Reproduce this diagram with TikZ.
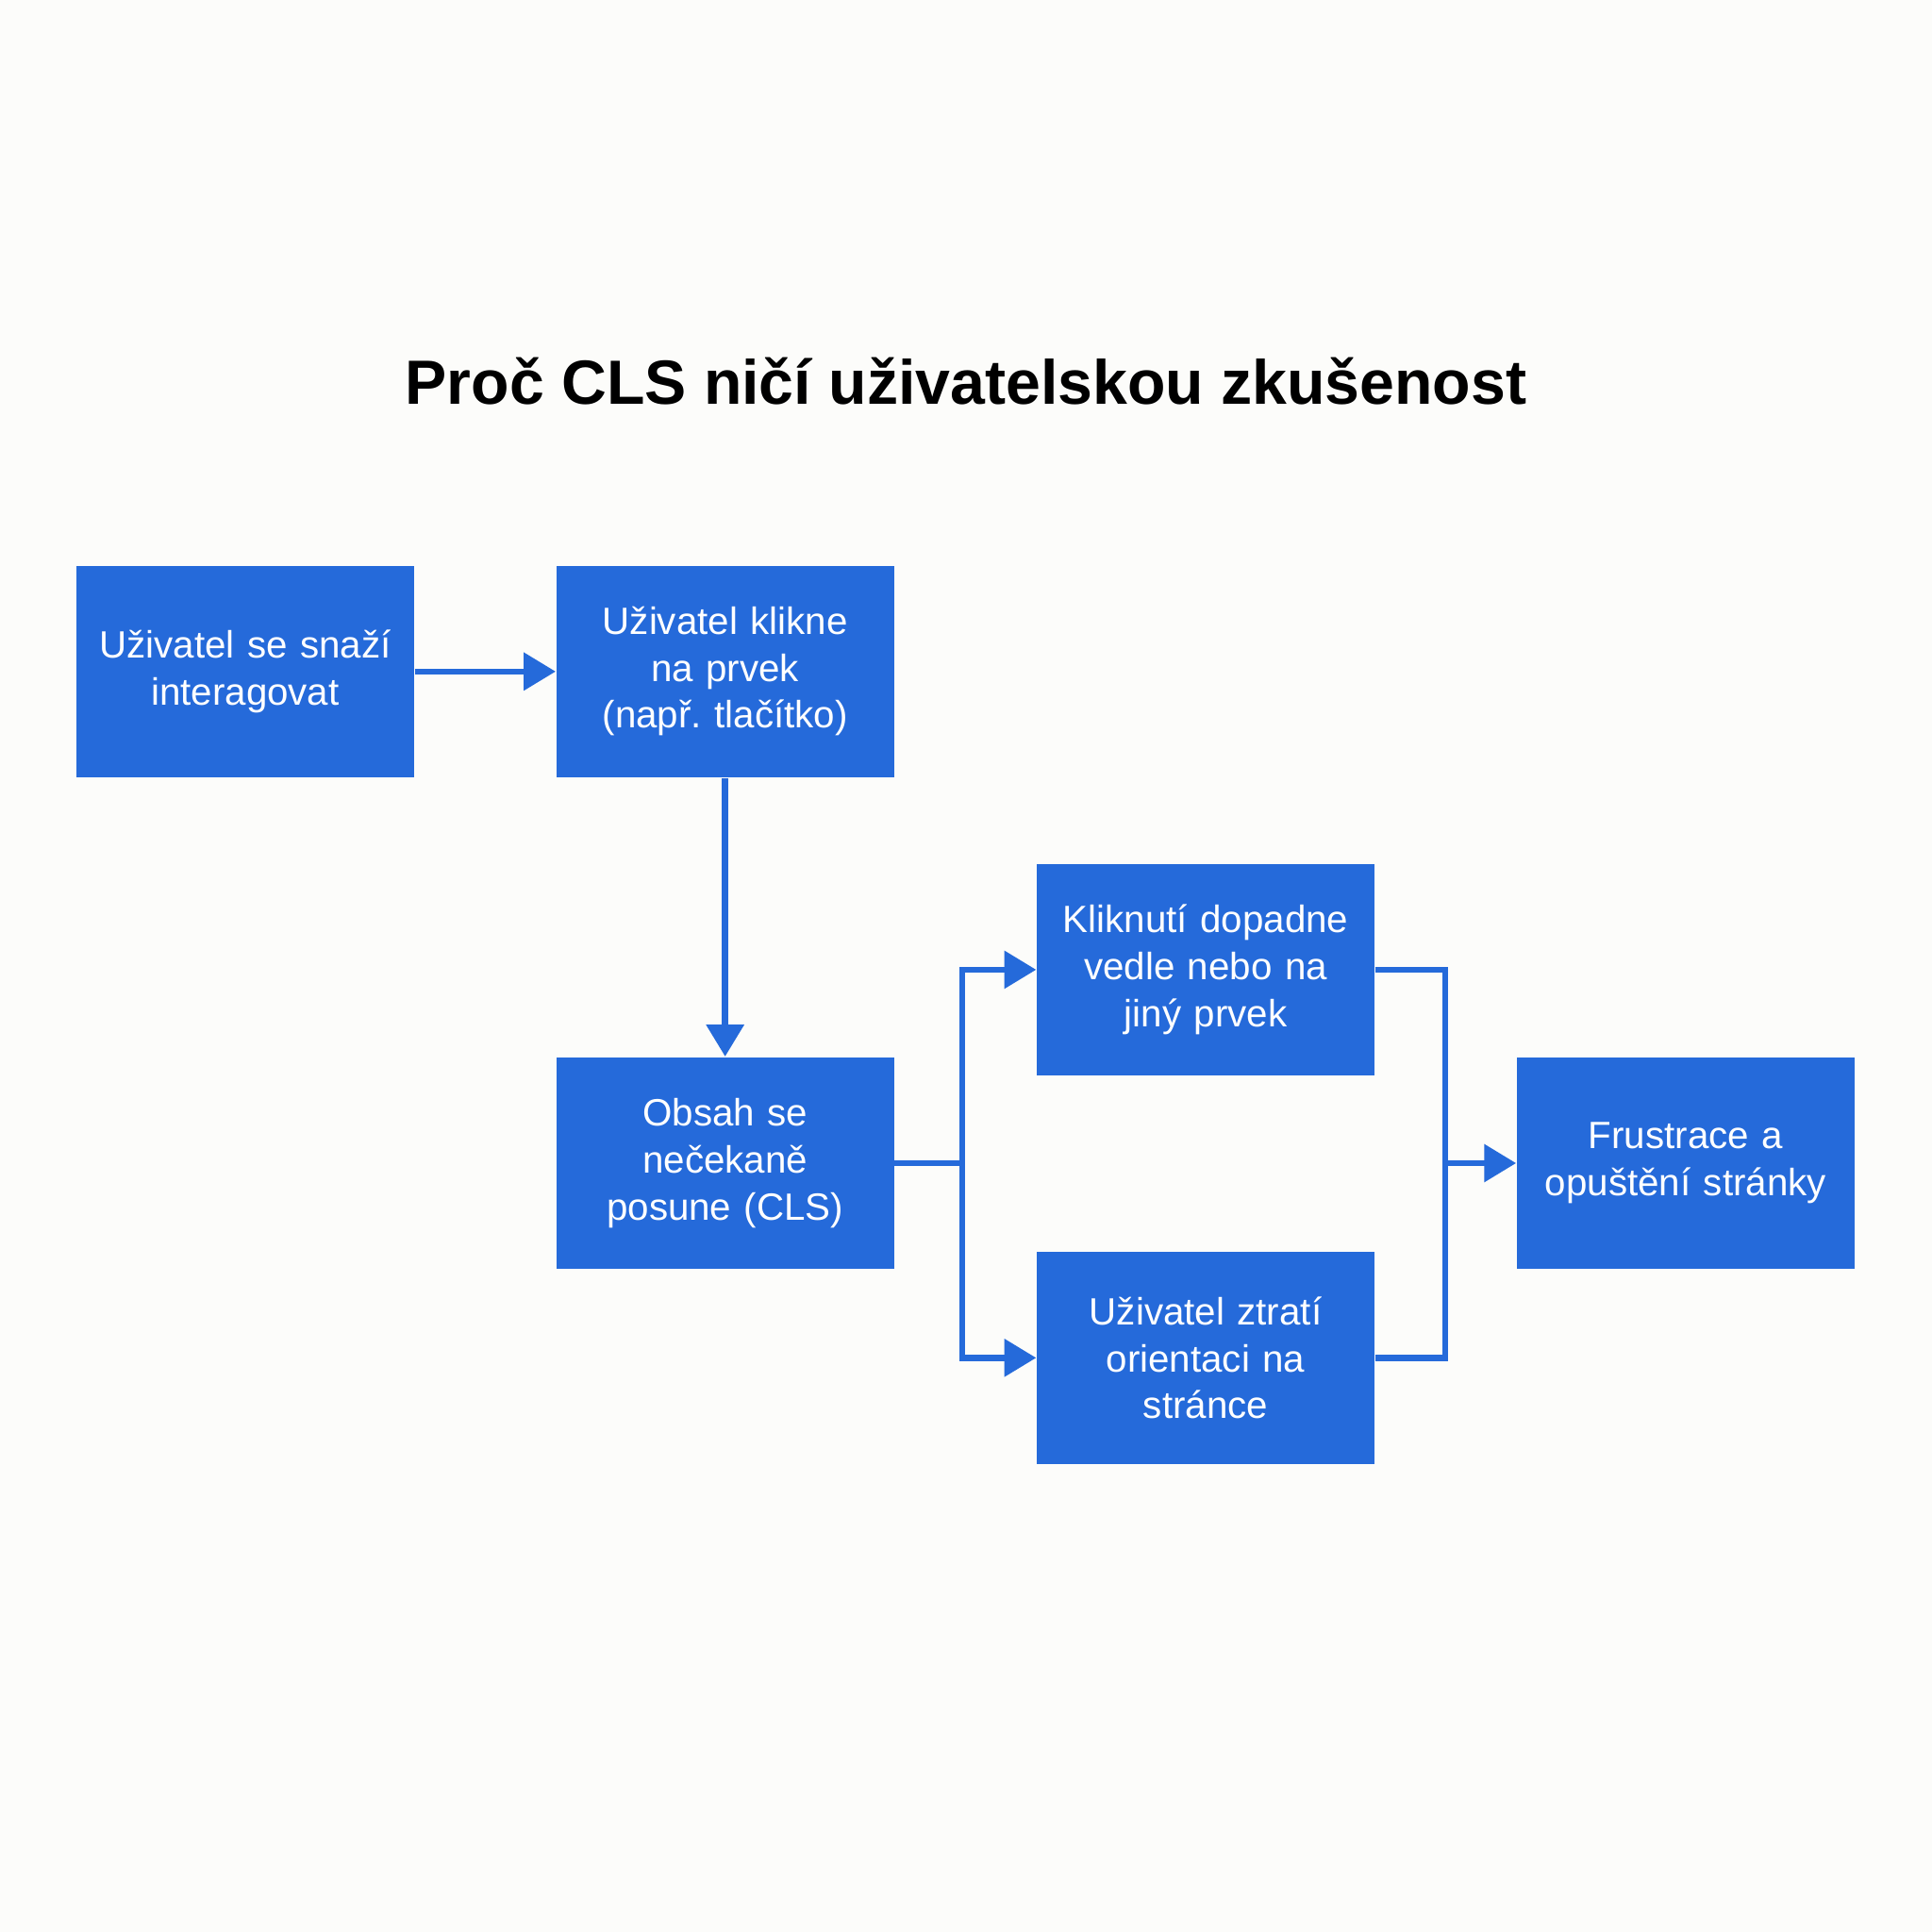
\documentclass[tikz,border=0pt]{standalone}
\usepackage{fontspec}
\setmainfont{Liberation Sans}
\usepackage{tikz}
\usepackage{xcolor}
\usetikzlibrary{arrows.meta}
\definecolor{boxblue}{RGB}{37,106,218}
\definecolor{paper}{RGB}{252,252,250}
\frenchspacing

\begin{document}
\begin{tikzpicture}[x=0.012755cm,y=-0.012755cm]
		\tikzstyle{stepbox}=[rectangle,fill=boxblue,text=white,minimum width=3.495cm,minimum height=2.194cm,text width=3.3cm,align=center,inner sep=0pt,font=\fontsize{11.2}{13.8}\selectfont]
		\tikzstyle{link}=[draw=boxblue,line width=1.8pt]
		\tikzstyle{arrow}=[link,-{Triangle[length=0.33cm,width=0.38cm]}]
		
		\fill[paper] (0,0) rectangle (1568,1568);
		\useasboundingbox (0,0) rectangle (1568,1568);
		
		\node [anchor=base,font=\fontsize{18.4}{22}\selectfont\bfseries] (title) at (784,328) {Proč CLS ničí uživatelskou zkušenost};
		
		\node [stepbox] (try) at (199,545) {Uživatel se snaží\\interagovat};
		\node [stepbox] (click) at (588.5,545) {Uživatel klikne\\na prvek\\(např. tlačítko)};
		\node [stepbox] (shift) at (588.5,944) {Obsah se\\nečekaně\\posune (CLS)};
		\node [stepbox] (miss) at (978.5,787) {Kliknutí dopadne\\vedle nebo na\\jiný prvek};
		\node [stepbox] (lost) at (978.5,1102) {Uživatel ztratí\\orientaci na\\stránce};
		\node [stepbox] (leave) at (1368,944) {Frustrace a\\opuštění stránky};
		
		\coordinate (split) at (781,944);
		\coordinate (merge) at (1173,944);
		
		\draw [arrow] (try) -- (click);
		\draw [arrow] (click) -- (shift);
		\draw [link] (shift.east) -- (split);
		\draw [arrow] (split) |- (miss.west);
		\draw [arrow] (split) |- (lost.west);
		\draw [link] (miss.east) -| (merge);
		\draw [link] (lost.east) -| (merge);
		\draw [arrow] (merge) -- (leave.west);
\end{tikzpicture}
\end{document}
